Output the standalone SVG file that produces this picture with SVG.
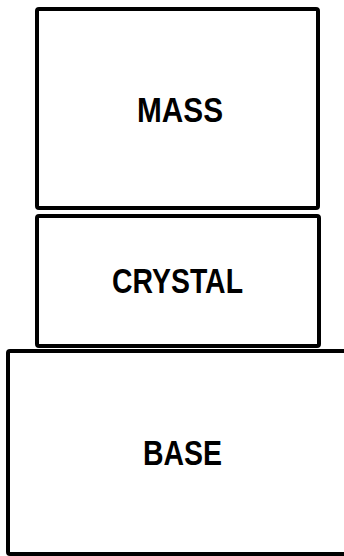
<svg xmlns="http://www.w3.org/2000/svg" width="344" height="556" viewBox="0 0 344 556">
<style>
.box{fill:#fff;stroke:#000;stroke-width:4}
.lbl{font-family:"Liberation Sans",Arial,sans-serif;font-weight:bold;font-size:35px;fill:#000}
</style>
<rect width="344" height="556" fill="#fff"/>
<g id="mass">
<rect class="box" x="37" y="9" width="281" height="199" rx="2"/>
<text class="lbl" x="137" y="122" textLength="86" lengthAdjust="spacingAndGlyphs">MASS</text>
</g>
<g id="crystal">
<rect class="box" x="37" y="216" width="282" height="130" rx="2"/>
<text class="lbl" x="112" y="293" textLength="131" lengthAdjust="spacingAndGlyphs">CRYSTAL</text>
</g>
<g id="base">
<rect class="box" x="8" y="351" width="338" height="203" rx="2"/>
<text class="lbl" x="143" y="465" textLength="79" lengthAdjust="spacingAndGlyphs">BASE</text>
</g>
<g id="connectors"/>
</svg>
